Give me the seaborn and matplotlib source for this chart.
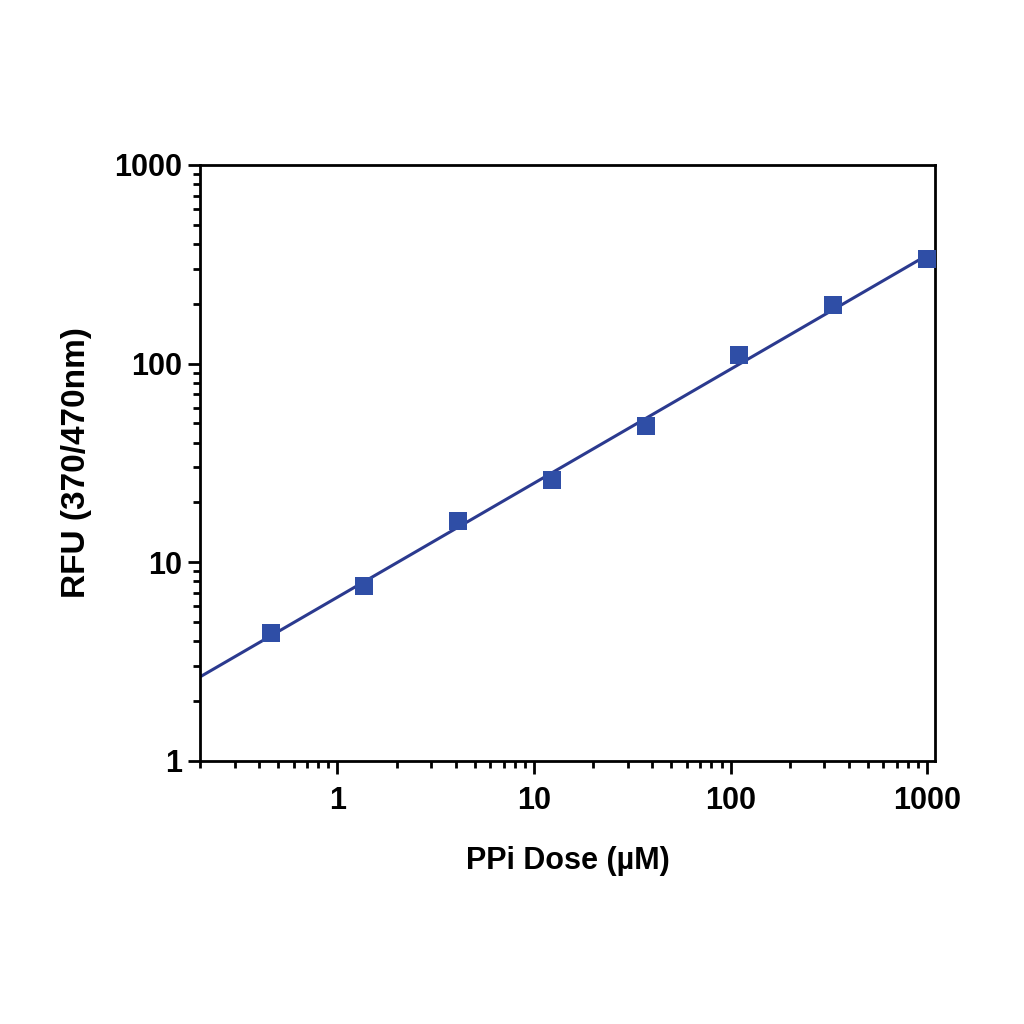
import numpy as np
import pandas as pd
import matplotlib
matplotlib.use("Agg")
import matplotlib.pyplot as plt
import seaborn as sns

# PPi standard curve
dose_um = [0.457, 1.37, 4.12, 12.3, 37.0, 111.0, 333.0, 1000.0]
rfu = [4.4, 7.6, 16.2, 25.9, 48.5, 110.0, 197.0, 334.0]

df = pd.DataFrame({"dose": dose_um, "rfu": rfu})

# linear fit in log-log space, drawn across the x range
slope, intercept = np.polyfit(np.log10(df["dose"]), np.log10(df["rfu"]), 1)
fit_x = np.logspace(np.log10(0.2), np.log10(1000), 50)
fit = pd.DataFrame({"dose": fit_x, "rfu": 10 ** (intercept + slope * np.log10(fit_x))})

sns.set_style("ticks")
plt.rcParams["font.family"] = ["Liberation Sans", "DejaVu Sans"]
plt.rcParams["font.weight"] = "bold"
plt.rcParams["text.color"] = "black"
plt.rcParams["axes.labelcolor"] = "black"
plt.rcParams["xtick.color"] = "black"
plt.rcParams["ytick.color"] = "black"

fig = plt.figure(figsize=(10.24, 10.24), dpi=100)
ax = fig.add_axes([0.1953, 0.257, 0.718, 0.582])

sns.lineplot(data=fit, x="dose", y="rfu", ax=ax, color="#2b3a8f", linewidth=2.2)
sns.scatterplot(data=df, x="dose", y="rfu", ax=ax, marker="s", s=165,
                color="#2f4ea6", edgecolor="#2f4ea6", linewidth=0, zorder=3)

ax.set_xscale("log")
ax.set_yscale("log")
ax.set_xlim(0.2, 1100)
ax.set_ylim(1, 1000)
ax.set_xticks([1, 10, 100, 1000])
ax.set_xticklabels(["1", "10", "100", "1000"])
ax.set_yticks([1, 10, 100, 1000])
ax.set_yticklabels(["1", "10", "100", "1000"])

for side in ["left", "bottom", "top", "right"]:
    ax.spines[side].set_linewidth(2)
    ax.spines[side].set_color("black")
ax.tick_params(which="major", direction="out", length=9, width=2, labelsize=22)
ax.tick_params(axis="x", which="major", pad=9)
ax.tick_params(axis="y", which="major", pad=4)
ax.tick_params(which="minor", direction="out", length=5, width=2)
ax.tick_params(top=False, right=False, which="both")

ax.set_xlabel("PPi Dose (µM)", fontsize=22, fontweight="bold", labelpad=22)
ax.set_ylabel("RFU (370/470nm)", fontsize=24, fontweight="bold", labelpad=16)

fig.savefig("out.png", dpi=100, facecolor="white")
